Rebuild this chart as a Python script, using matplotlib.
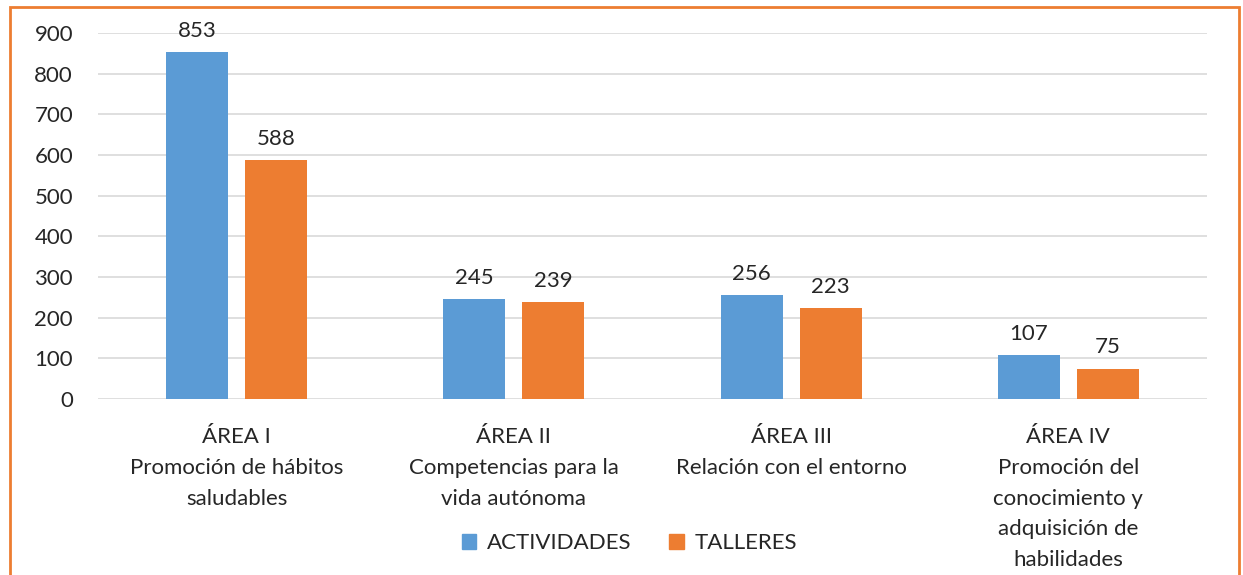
import matplotlib
matplotlib.use("Agg")
import matplotlib.pyplot as plt
import numpy as np
from matplotlib.patches import Rectangle, Patch

categories = ["ÁREA I\nPromoción de hábitos\nsaludables",
              "ÁREA II\nCompetencias para la\nvida autónoma",
              "ÁREA III\nRelación con el entorno",
              "ÁREA IV\nPromoción del\nconocimiento y\nadquisición de\nhabilidades"]
actividades = [853, 245, 256, 107]
talleres = [588, 239, 223, 75]
series_names = ["ACTIVIDADES", "TALLERES"]
yticks = [0, 100, 200, 300, 400, 500, 600, 700, 800, 900]

BLUE = "#5B9BD5"
ORANGE = "#ED7D31"
plt.rcParams['font.family'] = ['Lato', 'DejaVu Sans']
FS = 16

fig = plt.figure(figsize=(12.43, 5.75), dpi=100)
ax = fig.add_axes([98/1243, 1-399/575, (1207-98)/1243, (399-33)/575])

x = np.arange(len(categories))
w = 0.224
off = 0.1425
b1 = ax.bar(x - off, actividades, w, color=BLUE, zorder=3)
b2 = ax.bar(x + off, talleres, w, color=ORANGE, zorder=3)
for bars in (b1, b2):
    for r in bars:
        ax.annotate(f"{int(r.get_height())}", (r.get_x() + r.get_width()/2, r.get_height()),
                    xytext=(0, 8), textcoords="offset points", ha="center", va="bottom",
                    fontsize=FS, color="#262626")

ax.set_xlim(-0.5, len(categories) - 0.5)
ax.set_ylim(0, 900)
ax.set_yticks(yticks)
ax.set_xticks(x)
ax.set_xticklabels(categories, linespacing=1.66)
ax.tick_params(axis='both', length=0, labelsize=FS, colors="#262626")
ax.tick_params(axis='y', pad=18)
ax.tick_params(axis='x', pad=20.5)
ax.grid(axis='y', color="#d9d9d9", linewidth=1.2, zorder=0)
for s in ax.spines.values():
    s.set_visible(False)

handles = [Patch(color=BLUE), Patch(color=ORANGE)]
fig.legend(handles, series_names, loc='center', bbox_to_anchor=(629.5/1243, 1-543/575),
           ncol=2, frameon=False, fontsize=FS, handlelength=0.65, handleheight=0.65,
           columnspacing=1.7, handletextpad=0.5, labelcolor="#262626")

border = Rectangle((10/1243, -0.05), (1239-10)/1243, 1.05 - 7/575, transform=fig.transFigure,
                   fill=False, edgecolor=ORANGE, linewidth=2, clip_on=False)
fig.patches.append(border)

fig.savefig("out.png", dpi=100)
